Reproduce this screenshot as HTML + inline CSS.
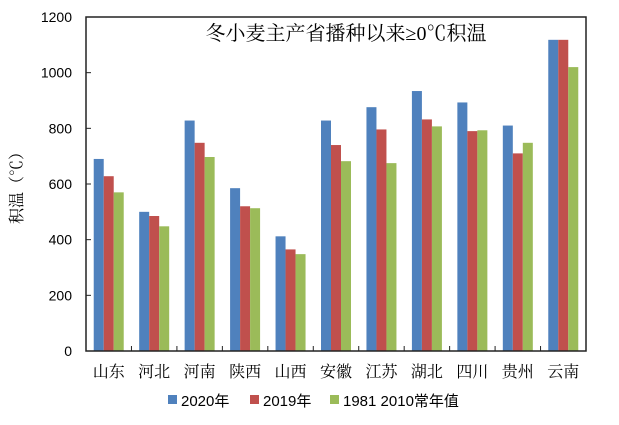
<!DOCTYPE html>
<html><head><meta charset="utf-8"><style>
body{margin:0;background:#fff;}
svg text{font-family:"Liberation Serif","Noto Serif CJK SC",serif;}
svg text.sans{font-family:"Liberation Sans","Noto Sans CJK SC",sans-serif;}
</style></head><body>
<svg id="c" width="619" height="420" xmlns="http://www.w3.org/2000/svg"></svg>
<script>
const categories=["山东","河北","河南","陕西","山西","安徽","江苏","湖北","四川","贵州","云南"];
const s2020=[690,500,828,585,412,828,876,934,893,810,1118];
const s2019=[628,485,748,520,365,740,796,832,790,710,1118];
const sNorm=[570,448,697,513,348,682,675,807,793,748,1020];
const yTicks=[0,200,400,600,800,1000,1200];
const seriesNames=["2020年","2019年","1981 2010常年值"];
const colors=["#4f81bd","#c0504d","#9bbb59"];
const L=86,R=586,T=17,B=351;
const svg=document.getElementById('c');
const NS="http://www.w3.org/2000/svg";
function y(v){return B-(v/1200)*(B-T);}
const cw=(R-L)/categories.length;
function x(i){return L+cw*i+cw/2;}
function mk(tag,attrs,txt){const e=document.createElementNS(NS,tag);for(const k in attrs)e.setAttribute(k,attrs[k]);if(txt!==undefined)e.textContent=txt;svg.appendChild(e);return e;}
const series=[s2020,s2019,sNorm];
const bw=10;
series.forEach((s,si)=>{s.forEach((v,i)=>{
 const r=mk('rect',{x:x(i)-15+si*bw,y:y(v),width:bw,height:B-y(v),fill:colors[si]});
 
 
});});
const frame=mk('rect',{x:L,y:T,width:R-L,height:B-T,fill:'none',stroke:'#222','stroke-width':1.5});


yTicks.forEach(t=>{
 const tk=mk('line',{x1:L,x2:L+5,y1:y(t),y2:y(t),stroke:'#222'});
 
 
 const lb=mk('text',{x:72,y:y(t)+5,'text-anchor':'end','font-size':14,fill:'#000',class:'sans'},t);
 
 
});
categories.forEach((c,i)=>{
 if(i>0){const tk=mk('line',{x1:L+cw*i,x2:L+cw*i,y1:B,y2:B-5,stroke:'#222'});
 
 }
 const lb=mk('text',{x:x(i),y:377,'text-anchor':'middle','font-size':16,fill:'#000'},c);
 
 
});
const tt=mk('text',{x:346,y:40,'text-anchor':'middle','font-size':20,fill:'#000'},'冬小麦主产省播种以来≥0℃积温');


const yt=mk('text',{x:0,y:0,transform:'translate(22,184) rotate(-90)','text-anchor':'middle','font-size':16,fill:'#000'},'积温（℃）');


const lx=[168,250,330];
seriesNames.forEach((n,i)=>{
 const sw=mk('rect',{x:lx[i],y:395,width:9,height:9,fill:colors[i]});
 
 
 const lb=mk('text',{x:lx[i]+13,y:406,'font-size':15,fill:'#000',class:'sans'},n);
 
 
});
</script>
</body></html>
